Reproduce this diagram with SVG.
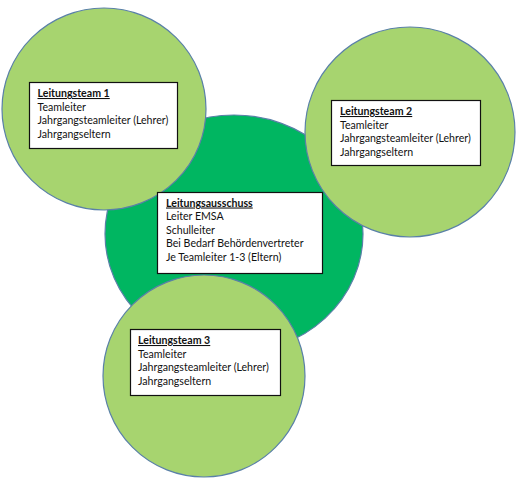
<svg xmlns="http://www.w3.org/2000/svg" width="519" height="480" viewBox="0 0 519 480">
  <style>
    .light { fill: #A7D46F; stroke: #5A80A8; stroke-width: 1.2; }
    .dark { fill: #00B661; stroke: #5A80A8; stroke-width: 1.2; }
    .box { fill: #FFFFFF; stroke: #111111; stroke-width: 1.2; }
    text { font-family: Lato, "Liberation Sans", sans-serif; font-size: 10.6px; fill: #111111; }
    .head { font-weight: bold; text-decoration: underline; }
  </style>
  <rect width="519" height="480" fill="#FFFFFF"/>
  <g id="leitungsausschuss">
    <ellipse class="dark" cx="234" cy="234" rx="129" ry="119"/>
  </g>
  <g id="leitungsteam1">
    <ellipse class="light" cx="104" cy="109" rx="102" ry="101"/>
    <rect class="box" x="29.5" y="82.5" width="148" height="66"/>
    <text x="37.5" y="97" class="head">Leitungsteam 1</text>
    <text x="37.5" y="110.5">Teamleiter</text>
    <text x="37.5" y="124">Jahrgangsteamleiter (Lehrer)</text>
    <text x="37.5" y="137.5">Jahrgangseltern</text>
  </g>
  <g id="leitungsteam2">
    <circle class="light" cx="410" cy="132" r="105"/>
    <rect class="box" x="331.5" y="100.5" width="149" height="65"/>
    <text x="340" y="115" class="head">Leitungsteam 2</text>
    <text x="340" y="128.5">Teamleiter</text>
    <text x="340" y="142">Jahrgangsteamleiter (Lehrer)</text>
    <text x="340" y="155.5">Jahrgangseltern</text>
  </g>
  <g id="leitungsteam3">
    <circle class="light" cx="204" cy="376" r="101"/>
    <rect class="box" x="130.5" y="329.5" width="150" height="66"/>
    <text x="138" y="344" class="head">Leitungsteam 3</text>
    <text x="138" y="357.5">Teamleiter</text>
    <text x="138" y="371">Jahrgangsteamleiter (Lehrer)</text>
    <text x="138" y="384.5">Jahrgangseltern</text>
  </g>
  <g id="leitungsausschuss-text">
    <rect class="box" x="157.5" y="192.5" width="165" height="81"/>
    <text x="166" y="206.5" class="head">Leitungsausschuss</text>
    <text x="166" y="220">Leiter EMSA</text>
    <text x="166" y="233.5">Schulleiter</text>
    <text x="166" y="247">Bei Bedarf Behördenvertreter</text>
    <text x="166" y="260.5">Je Teamleiter 1-3 (Eltern)</text>
  </g>
</svg>
